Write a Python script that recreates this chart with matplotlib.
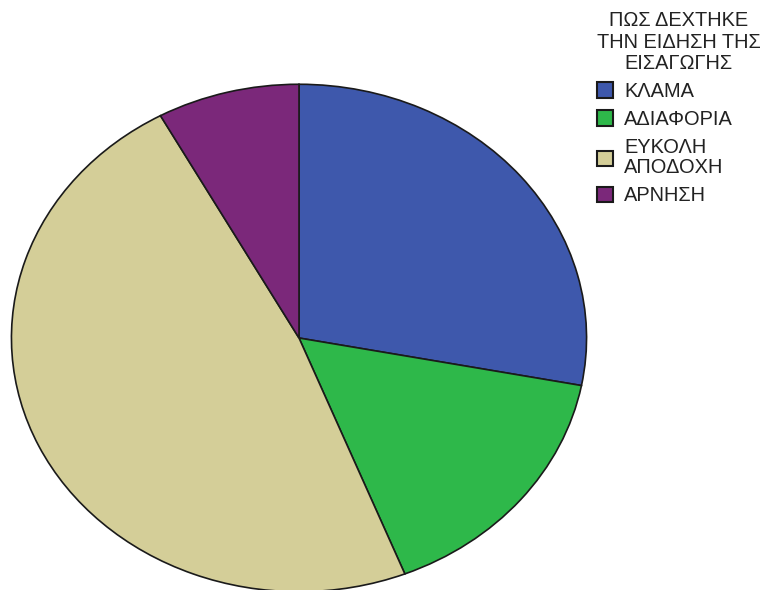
import matplotlib
matplotlib.use('Agg')
import matplotlib.pyplot as plt

plt.rcParams['font.family'] = ['Liberation Sans', 'DejaVu Sans']

labels = ['ΚΛΑΜΑ', 'ΑΔΙΑΦΟΡΙΑ', 'ΕΥΚΟΛΗ\nΑΠΟΔΟΧΗ', 'ΑΡΝΗΣΗ']
counts = [7, 4, 12, 2]
colors = ['#3E58AC', '#2EB84A', '#D4CE98', '#7B287A']
legend_title = 'ΠΩΣ ΔΕΧΤΗΚΕ\nΤΗΝ ΕΙΔΗΣΗ ΤΗΣ\nΕΙΣΑΓΩΓΗΣ'

W, H = 767, 590
fig = plt.figure(figsize=(W / 100, H / 100), dpi=100)
# pie is drawn as an ellipse, so the axes box is not square
ax = fig.add_axes([10 / W, (H - 593) / H, 578 / W, 510 / H])
wedges, _ = ax.pie(counts, colors=colors, startangle=90, counterclock=False,
                   wedgeprops=dict(edgecolor='#1a1a1a', linewidth=1.2))
ax.set_aspect('auto')
ax.set_xlim(-1.005, 1.005)
ax.set_ylim(-1.005, 1.005)

leg = fig.legend(wedges, labels, title=legend_title, loc='upper left',
                 bbox_to_anchor=(597 / W, 1 - 11 / H), frameon=False,
                 borderpad=0, borderaxespad=0, alignment='left',
                 fontsize=14.4, title_fontsize=14.4, handlelength=0.8,
                 handleheight=0.8, handletextpad=0.55, labelspacing=0.45,
                 labelcolor='#222222')
title = leg.get_title()
title.set_multialignment('center')
title.set_linespacing(1.17)
title.set_color('#222222')
for t in leg.get_texts():
    t.set_linespacing(1.07)
for h in leg.legend_handles:
    h.set_edgecolor('#1a1a1a')
    h.set_linewidth(1.5)

fig.savefig('out.png', dpi=100)
